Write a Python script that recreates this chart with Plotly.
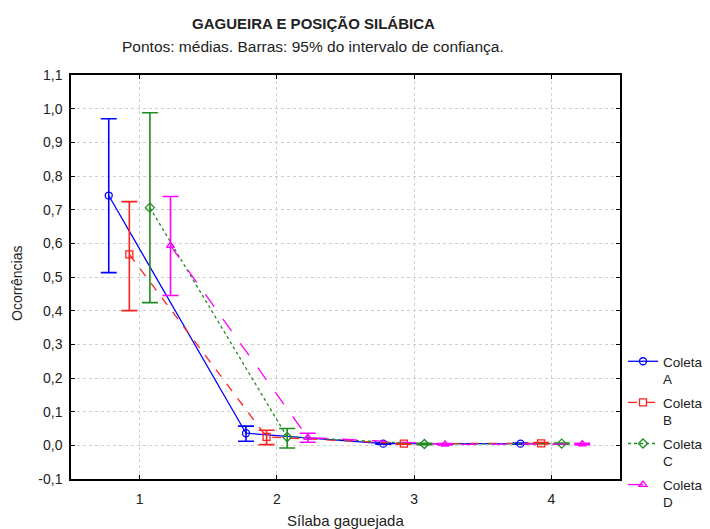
import plotly.graph_objects as go

syllables = [1, 2, 3, 4]
series_names = ["Coleta<br>A", "Coleta<br>B", "Coleta<br>C", "Coleta<br>D"]

mean_A = [0.742, 0.036, 0.005, 0.005]
upper_A = [0.970, 0.057, 0.007, 0.007]
lower_A = [0.513, 0.012, 0.003, 0.003]

mean_B = [0.567, 0.025, 0.005, 0.006]
upper_B = [0.724, 0.045, 0.007, 0.008]
lower_B = [0.400, 0.002, 0.003, 0.004]

mean_C = [0.706, 0.025, 0.004, 0.005]
upper_C = [0.988, 0.050, 0.006, 0.007]
lower_C = [0.424, -0.008, 0.002, 0.003]

mean_D = [0.593, 0.023, 0.003, 0.004]
upper_D = [0.739, 0.036, 0.005, 0.006]
lower_D = [0.445, 0.009, 0.001, 0.002]

y_tickvals = [-0.1, 0.0, 0.1, 0.2, 0.3, 0.4, 0.5, 0.6, 0.7, 0.8, 0.9, 1.0, 1.1]
y_ticktext = ["-0,1", "0,0", "0,1", "0,2", "0,3", "0,4", "0,5", "0,6", "0,7", "0,8", "0,9", "1,0", "1,1"]
x_tickvals = [1, 2, 3, 4]
x_ticktext = ["1", "2", "3", "4"]

means = [mean_A, mean_B, mean_C, mean_D]
uppers = [upper_A, upper_B, upper_C, upper_D]
lowers = [lower_A, lower_B, lower_C, lower_D]

offsets = [-0.225, -0.075, 0.075, 0.225]
colors = ["#0000FF", "#FF2020", "#1E8C1E", "#FF00FF"]
dashes = ["solid", "dash", "dot", "longdash"]
symbols = ["circle-open", "square-open", "diamond-open", "triangle-up-open"]

# page has an 8px body margin; figure sized so it fits the 710x529 window
PAD = 8
W, H = 710 - PAD, 529 - PAD
ML, MT = 71 - PAD, 75 - PAD
MR = W - (620 - PAD)
MB = H - (479 - PAD)

fig = go.Figure()
for i, (name, m, u, l, off, c, d, s) in enumerate(zip(series_names, means, uppers, lowers, offsets, colors, dashes, symbols)):
    xs = [x + off for x in syllables]
    fig.add_trace(go.Scatter(
        x=xs, y=m, name=name, mode="lines+markers", legendgroup="g%d" % i,
        line=dict(color=c, width=1.3, dash=d),
        marker=dict(symbol=s, size=7, color=c, line=dict(color=c, width=1.3)),
        error_y=dict(type="data", symmetric=False,
                     array=[ui - mi for ui, mi in zip(u, m)],
                     arrayminus=[mi - li for mi, li in zip(m, l)],
                     color=c, thickness=1.6, width=8),
    ))

pw = W - ML - MR
ph = H - MT - MB
def px_to_paper(rx, ry):
    # rx, ry: pixel positions in the reference window
    px, py = rx - PAD, ry - PAD
    return (px - ML) / pw, (H - MB - py) / ph

anns = []
for text, px, py, size in [
    ("<b>GAGUEIRA E POSIÇÃO SILÁBICA</b>", 313, 23, 15),
    ("Pontos: médias. Barras: 95% do intervalo de confiança.", 313, 47, 15.5),
    ("Sílaba gaguejada", 345, 520, 15),
]:
    xp, yp = px_to_paper(px, py)
    anns.append(dict(text=text, x=xp, y=yp, xref="paper", yref="paper",
                     showarrow=False, font=dict(size=size), xanchor="center", yanchor="middle"))
xp, yp = px_to_paper(17, 284)
anns.append(dict(text="Ocorrências", x=xp, y=yp, xref="paper", yref="paper",
                 showarrow=False, textangle=-90, font=dict(size=14),
                 xanchor="center", yanchor="middle"))

lx, ly = px_to_paper(623, 346)
font_family = "Liberation Sans, Arial, sans-serif"
fig.update_layout(
    width=W, height=H,
    margin=dict(l=ML, r=MR, t=MT, b=MB, autoexpand=False),
    paper_bgcolor="white", plot_bgcolor="white",
    font=dict(family=font_family, size=14, color="#222222"),
    showlegend=True,
    legend=dict(x=lx, y=ly, xanchor="left", yanchor="top", valign="top",
                font=dict(size=13.5, color="#222222"), bgcolor="rgba(0,0,0,0)",
                itemwidth=30, tracegroupgap=3),
    xaxis=dict(range=[0.5, 4.5], tickvals=x_tickvals, ticktext=x_ticktext,
               showgrid=True, gridcolor="#cfcfcf", griddash="dot", gridwidth=1,
               showline=True, linecolor="black", linewidth=1.5, mirror="ticks",
               ticks="inside", ticklen=4, tickcolor="black", zeroline=False,
               automargin=False, tickfont=dict(size=14), ticklabelstandoff=6),
    yaxis=dict(range=[-0.1, 1.1], tickvals=y_tickvals, ticktext=y_ticktext,
               showgrid=True, gridcolor="#cfcfcf", griddash="dot", gridwidth=1,
               showline=True, linecolor="black", linewidth=1.5, mirror="ticks",
               ticks="inside", ticklen=4, tickcolor="black", zeroline=False,
               automargin=False, tickfont=dict(size=14), ticklabelstandoff=4),
    annotations=anns,
)

fig.write_html("out.html")
